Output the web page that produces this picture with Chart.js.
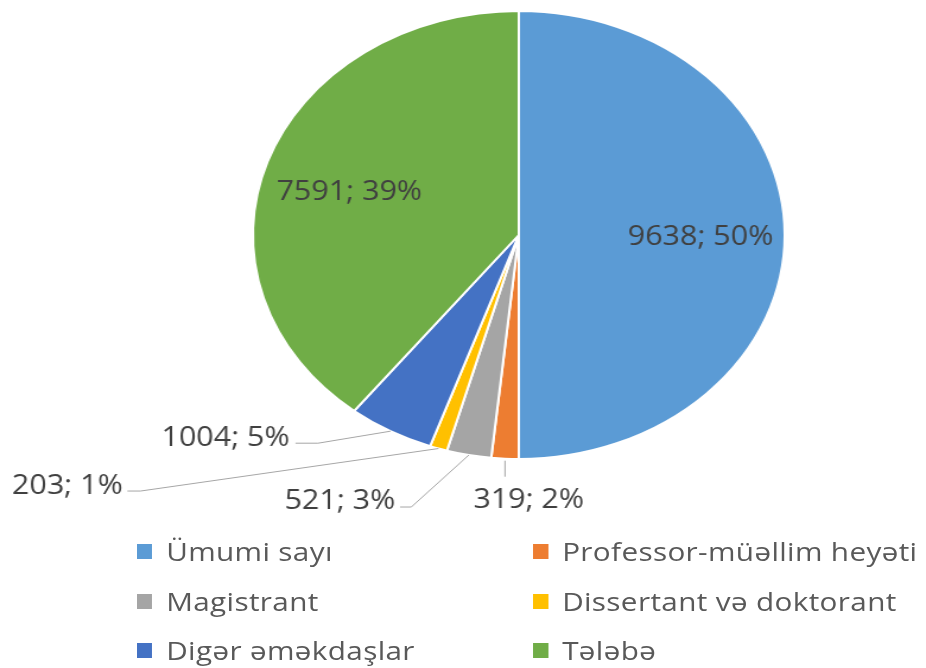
<!DOCTYPE html>
<html>
<head>
<meta charset="utf-8">
<script src="https://cdn.jsdelivr.net/npm/chart.js@4/dist/chart.umd.min.js"></script>
<style>
  html, body { margin:0; padding:0; background:#fff; overflow:hidden; }
  /* the reference is stretched sideways, so draw narrow and widen the whole block */
  #wrap { position:relative; width:780px; height:668px; transform:scaleX(1.18718); transform-origin:0 0; }
  #pie { position:absolute; left:0; top:0; }
  .lg { position:absolute; height:30px; display:flex; align-items:center; font-family:'Open Sans', sans-serif; font-size:25px; line-height:30px; letter-spacing:0.3px; color:#595959; white-space:nowrap; }
  .lg i { display:inline-block; width:13px; height:15px; margin-right:12px; }
</style>
</head>
<body>
<div id="wrap">
  <canvas id="pie" width="780" height="668"></canvas>
  <div id="legend"></div>
</div>
<script>
// data
const labels = ['Ümumi sayı','Professor-müəllim heyəti','Magistrant','Dissertant və doktorant','Digər əməkdaşlar','Tələbə'];
const values = [9638, 319, 521, 203, 1004, 7591];
const colors = ['#5B9BD5','#ED7D31','#A5A5A5','#FFC000','#4472C4','#70AD47'];

const total = values.reduce((a,b)=>a+b,0);
const pct = v => Math.round(v/total*100);

// label placement per slice (inside ones sit at a fraction of the radius,
// outside ones are offsets from the slice's outer edge point)
const labelPos = [
  { inside:0.67, ox:3 },
  { lead:[[0,2],[0,18]], dx:20, dy:40, align:'center' },
  { lead:[[0,0],[-48.5,52],[-58,52]], dx:-62, dy:44, align:'right' },
  { lead:[[0,0],[-251,42.5],[-262,42.5]], dx:-266, dy:35.5, align:'right' },
  { lead:[[0,0],[-61,12],[-80,12]], dx:-85, dy:5, align:'right' },
  { inside:0.67, ox:-1, oy:5 }
];

const sliceLabels = {
  id:'sliceLabels',
  afterDatasetsDraw(chart){
    const ctx = chart.ctx;
    const arcs = chart.getDatasetMeta(0).data;
    const fs = 27, squeeze = 0.95;
    const capHalf = fs*0.714/2;
    const put = (txt, x, y, align) => {
      ctx.save();
      ctx.translate(x, y);
      ctx.scale(squeeze, 1);
      ctx.textAlign = align;
      ctx.fillText(txt, 0, 0);
      ctx.restore();
    };
    ctx.save();
    ctx.font = fs + "px 'Open Sans', sans-serif";
    ctx.fillStyle = '#404040';
    ctx.textBaseline = 'alphabetic';
    arcs.forEach((arc, i) => {
      const p = arc.getProps(['x','y','startAngle','endAngle','outerRadius'], true);
      const a = (p.startAngle + p.endAngle)/2;
      const txt = values[i] + '; ' + pct(values[i]) + '%';
      const cfg = labelPos[i];
      if (cfg.inside) {
        const tx = p.x + Math.cos(a)*p.outerRadius*cfg.inside + (cfg.ox||0);
        const ty = p.y + Math.sin(a)*p.outerRadius*cfg.inside + (cfg.oy||0);
        put(txt, tx, ty + capHalf, 'center');
        return;
      }
      const ex = p.x + Math.cos(a)*p.outerRadius;
      const ey = p.y + Math.sin(a)*p.outerRadius;
      ctx.strokeStyle = '#A6A6A6';
      ctx.lineWidth = 1;
      ctx.beginPath();
      cfg.lead.forEach((pt, k) => {
        if (k===0) ctx.moveTo(ex+pt[0], ey+pt[1]); else ctx.lineTo(ex+pt[0], ey+pt[1]);
      });
      ctx.stroke();
      put(txt, ex + cfg.dx, ey + cfg.dy + capHalf, cfg.align);
    });
    ctx.restore();
  }
};

new Chart(document.getElementById('pie'), {
  type:'pie',
  data:{
    labels: labels,
    datasets:[{ data: values, backgroundColor: colors, borderColor:'#ffffff', borderWidth:2 }]
  },
  options:{
    responsive:false,
    animation:false,
    layout:{ padding:{ left:212, right:118, top:9, bottom:207 } },
    plugins:{ legend:{display:false}, tooltip:{enabled:false} }
  },
  plugins:[sliceLabels]
});

// legend, two columns of three
const legendCols = [140, 473.5];
const legendRows = [551, 601, 650];
const lg = document.getElementById('legend');
labels.forEach((name, i) => {
  const d = document.createElement('div');
  d.className = 'lg';
  d.style.left = (legendCols[i%2] - 25) + 'px';
  d.style.top = (legendRows[Math.floor(i/2)] - 15) + 'px';
  d.innerHTML = `<i style="background:${colors[i]}"></i><span>${name}</span>`;
  lg.appendChild(d);
});
</script>
</body>
</html>
